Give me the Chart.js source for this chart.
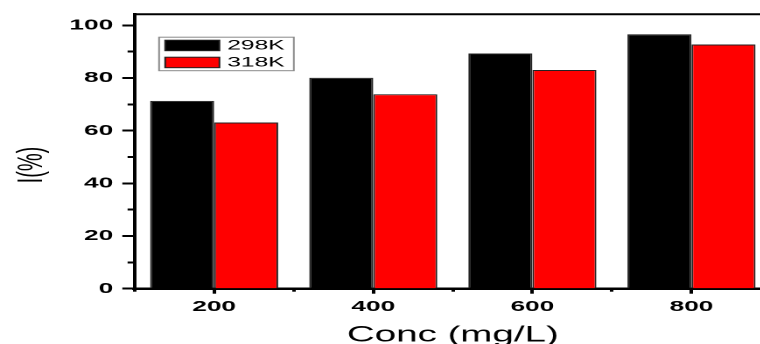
<!DOCTYPE html>
<html>
<head>
<meta charset="utf-8">
<script src="https://cdn.jsdelivr.net/npm/chart.js@4"></script>
<style>
  html, body { margin: 0; padding: 0; background: #ffffff; overflow: hidden; }
  #wrap { width: 760px; height: 344px; overflow: hidden; position: relative; }
  #c { position: absolute; left: 0; top: 0; width: 450px; height: 344px; transform: scaleX(1.75); transform-origin: 0 0; }
</style>
</head>
<body>
<div id="wrap"><canvas id="c" width="450" height="344"></canvas></div>
<script>
const categories = ['200', '400', '600', '800'];
const series298K = [71.3, 80.1, 89.3, 96.6];
const series318K = [63.1, 73.8, 83.0, 92.7];
const seriesNames = ['298K', '318K'];
const yTickValues = [0, 10, 20, 30, 40, 50, 60, 70, 80, 90, 100];
const yLabelledTicks = [0, 20, 40, 60, 80, 100];
const xTitle = 'Conc (mg/L)';
const yTitle = 'I(%)';

const FONT = "'Liberation Sans', Arial, sans-serif";

const frame = {
  id: 'frame',
  afterDraw(chart) {
    const { ctx, chartArea: a } = chart;
    ctx.save();
    ctx.strokeStyle = '#000';
    ctx.lineWidth = 2;
    ctx.beginPath();
    ctx.moveTo(a.left, a.top);
    ctx.lineTo(a.right, a.top);
    ctx.lineTo(a.right, a.bottom);
    ctx.stroke();
    ctx.restore();
  }
};

const yTitlePlugin = {
  id: 'yTitle',
  afterDraw(chart) {
    const { ctx } = chart;
    ctx.save();
    ctx.translate(18.3, 165);
    ctx.rotate(-Math.PI / 2);
    ctx.font = '20px ' + FONT;
    ctx.fillStyle = '#000';
    ctx.textAlign = 'center';
    ctx.textBaseline = 'middle';
    ctx.fillText(yTitle, 0, 0);
    ctx.restore();
  }
};

const boxLegend = {
  id: 'boxLegend',
  afterDraw(chart) {
    const { ctx, chartArea: a } = chart;
    const bx = a.left + 14, by = a.top + 23;
    ctx.save();
    ctx.strokeStyle = '#8a8a8a';
    ctx.lineWidth = 1;
    ctx.fillStyle = '#fff';
    ctx.fillRect(bx, by, 77, 33.5);
    ctx.strokeRect(bx, by, 77, 33.5);
    ctx.font = '14px ' + FONT;
    ctx.textBaseline = 'middle';
    chart.data.datasets.forEach((ds, i) => {
      const sy = by + 3 + i * 17;
      ctx.fillStyle = ds.backgroundColor;
      ctx.fillRect(bx + 3.5, sy, 31, 10.5);
      ctx.strokeStyle = '#222';
      ctx.strokeRect(bx + 3.5, sy, 31, 10.5);
      ctx.fillStyle = '#000';
      ctx.fillText(ds.label, bx + 39, sy + 5.6);
    });
    ctx.restore();
  }
};

new Chart(document.getElementById('c'), {
  type: 'bar',
  data: {
    labels: categories,
    datasets: [
      { label: seriesNames[0], data: series298K, backgroundColor: '#000000', borderColor: '#222', borderWidth: 1, xAxisID: 'x', yAxisID: 'y' },
      { label: seriesNames[1], data: series318K, backgroundColor: '#ff0000', borderColor: '#222', borderWidth: 1, xAxisID: 'x', yAxisID: 'y' }
    ]
  },
  options: {
    responsive: false,
    animation: false,
    devicePixelRatio: 2,
    categoryPercentage: 0.805,
    barPercentage: 1.0,
    layout: { padding: { top: 12.8, right: 9.4, left: 0, bottom: 0 } },
    plugins: { legend: { display: false }, tooltip: { enabled: false }, title: { display: false } },
    scales: {
      x: {
        type: 'category',
        position: 'bottom',
        offset: true,
        weight: 0,
        afterFit(s) { s.height = 55.3; },
        grid: { display: true, offset: false, drawOnChartArea: false, drawTicks: true, tickLength: 5, tickWidth: 2, tickColor: '#000' },
        border: { display: true, color: '#000', width: 2.5 },
        ticks: { color: '#000', padding: 4, font: { family: FONT, size: 15, weight: 'bold' }, maxRotation: 0, autoSkip: false },
        title: { display: true, text: xTitle, color: '#000', padding: { top: 0, bottom: 0 }, font: { family: FONT, size: 22, lineHeight: 0.78 } }
      },
      x2: {
        type: 'category',
        axis: 'x',
        position: 'bottom',
        offset: true,
        weight: -1,
        afterFit(s) { s.height = 0; },
        grid: { display: true, offset: true, drawOnChartArea: false, drawTicks: true, tickLength: 3, tickWidth: 2, tickColor: '#000' },
        border: { display: false },
        ticks: { display: false }
      },
      y: {
        type: 'linear',
        position: 'left',
        min: 0,
        max: 104.2,
        afterFit(s) { s.width = 76.9; },
        afterBuildTicks(s) { s.ticks = yTickValues.map(v => ({ value: v })); },
        grid: {
          display: true, drawOnChartArea: false, drawTicks: true, tickLength: 7, tickWidth: 2, tickColor: '#000',
          tickBorderDash: (ctx) => (ctx.tick && !yLabelledTicks.includes(ctx.tick.value)) ? [0, 3, 4, 100] : []
        },
        border: { display: true, color: '#000', width: 2 },
        ticks: {
          autoSkip: false, color: '#000', padding: 5.2,
          font: { family: FONT, size: 15, weight: 'bold' },
          callback: (v) => (yLabelledTicks.includes(v) ? String(v) : '')
        }
      }
    }
  },
  plugins: [frame, yTitlePlugin, boxLegend]
});
</script>
</body>
</html>
